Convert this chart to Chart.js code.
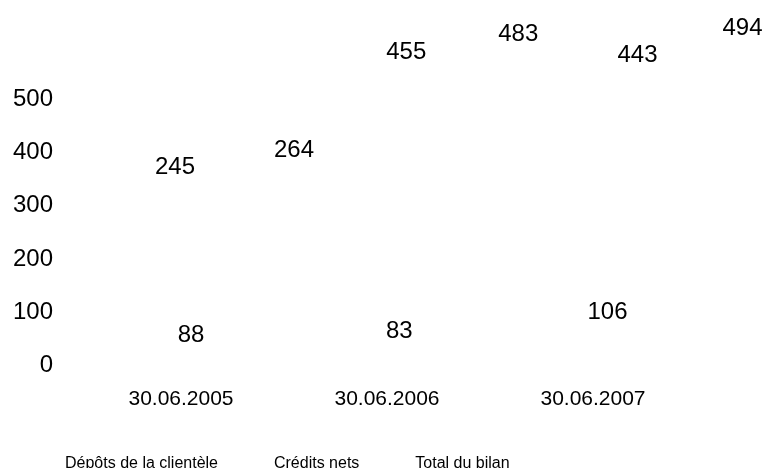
<!DOCTYPE html>
<html>
<head>
<meta charset="utf-8">
<script src="https://cdn.jsdelivr.net/npm/chart.js@4/dist/chart.umd.min.js"></script>
<style>
  html, body { margin: 0; padding: 0; background: #ffffff; }
  #wrap { width: 766px; height: 468px; }
</style>
</head>
<body>
<div id="wrap"><canvas id="c" width="766" height="468"></canvas></div>
<script>
// ---- data ----
const categories = ['30.06.2005', '30.06.2006', '30.06.2007'];
const seriesNames = ['Dépôts de la clientèle', 'Crédits nets', 'Total du bilan'];
const deposits = [88, 83, 106];
const credits = [245, 455, 443];
const totals = [264, 483, 494];
const yMin = 0;
const yMax = 500;
const yStep = 100;

// label placement style (3D-like depth shift of each series' value labels)
const labelShift = [
  { dx: 10, ddx: 2.25, dy: 16.6, ddy: -6.5 },
  { dx: -6, ddx: 25.25, dy: -67.6, ddy: -3.1 },
  { dx: 113, ddx: 18.25, dy: -74.5, ddy: 0.5 }
];

const FONT = "'Liberation Sans', Arial, sans-serif";

const valueLabels = {
  id: 'valueLabels',
  afterDatasetsDraw(chart) {
    const ctx = chart.ctx;
    const xs = chart.scales.x, ys = chart.scales.y;
    ctx.save();
    ctx.font = '24px ' + FONT;
    ctx.fillStyle = '#000000';
    ctx.textAlign = 'center';
    ctx.textBaseline = 'middle';
    chart.data.datasets.forEach((ds, d) => {
      const s = labelShift[d];
      ds.data.forEach((v, i) => {
        const x = xs.getPixelForValue(i) + s.dx + s.ddx * i;
        const y = ys.getPixelForValue(v) + s.dy + s.ddy * i;
        ctx.fillText(String(v), x, y);
      });
    });
    ctx.restore();
  }
};

const seriesValues = [deposits, credits, totals];

new Chart(document.getElementById('c'), {
  type: 'bar',
  data: {
    labels: categories,
    datasets: seriesNames.map((name, k) => ({
      label: name,
      data: seriesValues[k],
      backgroundColor: 'rgba(0,0,0,0)',
      borderColor: 'rgba(0,0,0,0)',
      borderWidth: 0
    }))
  },
  options: {
    responsive: false,
    animation: false,
    devicePixelRatio: 1,
    layout: { padding: { left: 9, right: 70, top: 99, bottom: -14 } },
    plugins: {
      legend: {
        display: true,
        position: 'bottom',
        align: 'start',
        labels: {
          color: '#000000',
          font: { family: FONT, size: 16 },
          boxWidth: 28,
          padding: 20
        }
      },
      tooltip: { enabled: false },
      title: { display: false }
    },
    scales: {
      x: {
        grid: { display: false, drawTicks: false },
        border: { display: false },
        ticks: { color: '#000000', font: { family: FONT, size: 21 }, padding: 21, maxRotation: 0 },
        afterFit(scale) { scale.height = 70.5; }
      },
      y: {
        min: yMin,
        max: yMax,
        grid: { display: false, drawTicks: false },
        border: { display: false },
        ticks: { stepSize: yStep, color: '#000000', font: { family: FONT, size: 24 }, padding: 25 },
        afterFit(scale) { scale.width = 69; }
      }
    }
  },
  plugins: [valueLabels]
});
</script>
</body>
</html>
